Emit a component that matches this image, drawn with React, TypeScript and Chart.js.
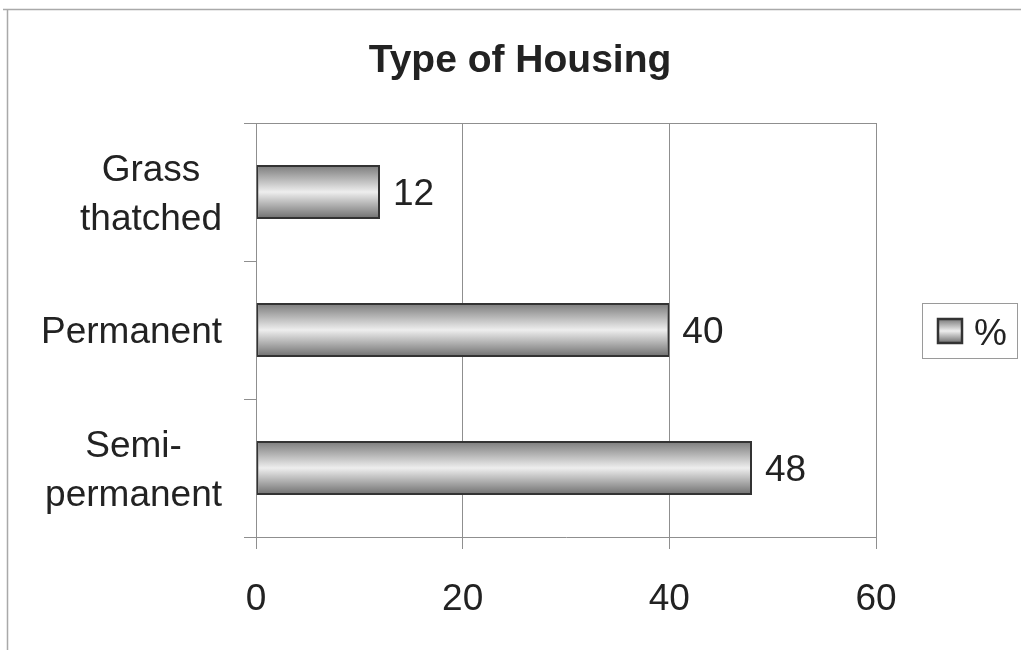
import React, { useEffect, useRef } from "react";
import { Chart, registerables } from "chart.js";

Chart.register(...registerables);

// ---- chart content ----
const TITLE = "Type of Housing";
const SERIES_LABEL = "%";
const CATEGORIES: string[][] = [["Grass", "thatched"], ["Permanent"], ["Semi-", "permanent"]];
const VALUES: number[] = [12, 40, 48];
const X_MIN = 0;
const X_MAX = 60;
const X_STEP = 20;

// ---- look ----
const W = 1021;
const H = 650;
const FONT = '"Liberation Sans", Arial, Helvetica, sans-serif';
const FONT_SIZE = 37;
const TEXT = "#222222";
const GRID = "#8f8f8f";
const BAR_PCT = 0.39;
const CAP = 0.716; // cap height ratio of the sans face

function barGradient(ctx: CanvasRenderingContext2D, top: number, bottom: number) {
  const g = ctx.createLinearGradient(0, top, 0, bottom);
  g.addColorStop(0, "#7a7a7a");
  g.addColorStop(0.5, "#eeeeee");
  g.addColorStop(1, "#6e6e6e");
  return g;
}

const decor = {
  id: "decor",
  beforeDraw(chart: any) {
    const ctx: CanvasRenderingContext2D = chart.ctx;
    ctx.save();
    ctx.fillStyle = "#ffffff";
    ctx.fillRect(0, 0, W, H);
    // sheet frame
    ctx.strokeStyle = "#a9a9a9";
    ctx.lineWidth = 1.5;
    ctx.beginPath();
    ctx.moveTo(3, 9.5);
    ctx.lineTo(W, 9.5);
    ctx.moveTo(7.5, 9);
    ctx.lineTo(7.5, H);
    ctx.stroke();
    ctx.restore();
  },
  beforeDatasetsDraw(chart: any) {
    const ctx: CanvasRenderingContext2D = chart.ctx;
    const a = chart.chartArea;
    ctx.save();
    ctx.strokeStyle = GRID;
    ctx.lineWidth = 1;
    ctx.beginPath();
    ctx.moveTo(a.left, Math.round(a.top) + 0.5);
    ctx.lineTo(a.right, Math.round(a.top) + 0.5);
    ctx.stroke();
    ctx.restore();
  },
  afterDatasetsDraw(chart: any) {
    const ctx: CanvasRenderingContext2D = chart.ctx;
    const meta = chart.getDatasetMeta(0);
    const values = chart.data.datasets[0].data as number[];
    ctx.save();
    ctx.font = `${FONT_SIZE}px ${FONT}`;
    ctx.fillStyle = TEXT;
    ctx.textAlign = "left";
    ctx.textBaseline = "alphabetic";
    meta.data.forEach((bar: any, i: number) => {
      ctx.fillText(String(values[i]), bar.x + 13, bar.y + (FONT_SIZE * CAP) / 2);
    });
    ctx.restore();
  },
  afterDraw(chart: any) {
    const ctx: CanvasRenderingContext2D = chart.ctx;
    const y = chart.scales.y;
    ctx.save();

    // title
    ctx.font = `bold 39px ${FONT}`;
    ctx.fillStyle = TEXT;
    ctx.textAlign = "center";
    ctx.textBaseline = "alphabetic";
    ctx.fillText(TITLE, 520, 72);

    // category labels, each block right-aligned with its lines centred
    ctx.font = `${FONT_SIZE}px ${FONT}`;
    const lineH = 49;
    const rightEdge = 222;
    (chart.data.labels as string[][]).forEach((lines, i) => {
      const cy = y.getPixelForValue(i);
      const maxW = Math.max(...lines.map((l) => ctx.measureText(l).width));
      const cx = rightEdge - maxW / 2;
      lines.forEach((l, j) => {
        const by = cy + (j - (lines.length - 1) / 2) * lineH + (FONT_SIZE * CAP) / 2;
        ctx.fillText(l, cx, by);
      });
    });

    // legend
    const lx = 922.5, ly = 303.5, lw = 95, lh = 55;
    ctx.strokeStyle = "#9a9a9a";
    ctx.lineWidth = 1;
    ctx.strokeRect(lx, ly, lw, lh);
    const sx = 938, sy = 319, ss = 24;
    ctx.fillStyle = barGradient(ctx, sy, sy + ss);
    ctx.fillRect(sx, sy, ss, ss);
    ctx.strokeStyle = "#333333";
    ctx.lineWidth = 2.5;
    ctx.strokeRect(sx, sy, ss, ss);
    ctx.fillStyle = TEXT;
    ctx.textAlign = "left";
    ctx.fillText(chart.data.datasets[0].label, 974, 345);
    ctx.restore();
  },
};

export default function App() {
  const ref = useRef<HTMLCanvasElement | null>(null);

  useEffect(() => {
    if (!ref.current) return;
    const chart = new Chart(ref.current, {
      type: "bar",
      data: {
        labels: CATEGORIES as any,
        datasets: [
          {
            label: SERIES_LABEL,
            data: VALUES,
            backgroundColor: (c: any) => {
              const ch = c.chart;
              const ys = ch.scales?.y;
              if (!ys || c.dataIndex === undefined || !ch.chartArea) return "#cccccc";
              const center = ys.getPixelForValue(c.dataIndex);
              const band = (ch.chartArea.bottom - ch.chartArea.top) / CATEGORIES.length;
              const half = (band * BAR_PCT) / 2;
              return barGradient(ch.ctx, center - half, center + half);
            },
            borderColor: "#333333",
            borderWidth: 2,
            borderSkipped: false,
            barPercentage: BAR_PCT,
            categoryPercentage: 1,
          },
        ],
      },
      options: {
        indexAxis: "y",
        responsive: false,
        animation: false,
        events: [],
        layout: { padding: { left: 0, top: 123, right: W - 876, bottom: 0 } },
        plugins: {
          legend: { display: false },
          title: { display: false },
          tooltip: { enabled: false },
        },
        scales: {
          x: {
            type: "linear",
            min: X_MIN,
            max: X_MAX,
            ticks: {
              stepSize: X_STEP,
              color: TEXT,
              font: { family: FONT, size: FONT_SIZE },
              padding: 29,
            },
            grid: { color: GRID, lineWidth: 1, tickLength: 12 },
            border: { color: GRID, width: 1 },
            afterFit: (s: any) => {
              s.height = H - 537;
            },
          },
          y: {
            type: "category",
            ticks: { display: false },
            grid: { color: GRID, lineWidth: 1, drawOnChartArea: false, tickLength: 12, offset: true },
            border: { color: GRID, width: 1 },
            afterFit: (s: any) => {
              s.width = 256;
            },
          },
        },
      },
      plugins: [decor],
    } as any);
    return () => chart.destroy();
  }, []);

  return (
    <div style={{ position: "fixed", left: 0, top: 0, width: W, height: H, background: "#fff" }}>
      <canvas ref={ref} width={W} height={H} style={{ display: "block" }} />
    </div>
  );
}
